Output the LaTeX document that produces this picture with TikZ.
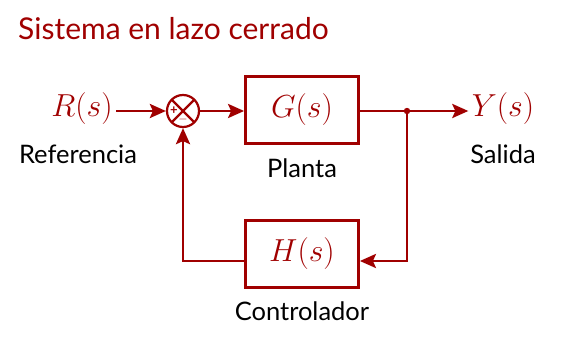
\documentclass[tikz,border=0pt]{standalone}
\usepackage{fontspec}
\setmainfont{Lato}
\usetikzlibrary{arrows.meta}
\definecolor{ctrlred}{RGB}{160,0,0}
% large transfer-function labels
\newcommand{\tflabel}[1]{\scalebox{1.28}{$#1$}}
\begin{document}
\begin{tikzpicture}[x=1pt,y=-1pt,
  wire/.style={draw=ctrlred,line width=2.8pt},
  sig/.style={wire,-{Stealth[length=16pt,width=14pt,inset=3pt]}},
  blockbox/.style={draw=ctrlred,line width=2.8pt,minimum width=113pt,minimum height=67pt,inner sep=0pt,text=ctrlred},
  mathtext/.style={text=ctrlred,font=\fontsize{29}{34}\selectfont},
  caption/.style={text=black,font=\fontsize{25.5}{30}\selectfont},
  sumnode/.style={circle,draw=ctrlred,line width=2.2pt,minimum size=32pt,inner sep=0pt,
    path picture={\draw[ctrlred,line width=2.2pt]
      (path picture bounding box.north west) -- (path picture bounding box.south east)
      (path picture bounding box.north east) -- (path picture bounding box.south west);}}
]
\useasboundingbox (0,0) rectangle (568,344);

% title
\node[anchor=base west,text=ctrlred,font=\fontsize{30}{36}\selectfont,inner sep=0pt] (title) at (18,40) {Sistema en lazo cerrado};

% signals and blocks
\node[mathtext] (r) at (82,109) {\tflabel{R(s)}};
\node[caption] (rcap) at (78,154) {Referencia};
\node[sumnode] (sum) at (183,111) {};
\node[text=ctrlred,font=\fontsize{13}{13}\selectfont\bfseries,inner sep=0pt] (plus) at (174,111) {+};
\node[text=ctrlred,font=\fontsize{13}{13}\selectfont\bfseries,inner sep=0pt] (minus) at (183,120) {$-$};
\node[blockbox,mathtext] (g) at (302,110) {\tflabel{G(s)}};
\node[caption] (gcap) at (302,168) {Planta};
\node[blockbox,mathtext] (h) at (302,254) {\tflabel{H(s)}};
\node[caption] (hcap) at (302,311) {Controlador};
\node[mathtext] (y) at (503,109) {\tflabel{Y(s)}};
\node[caption] (ycap) at (503,154) {Salida};

\coordinate (branch) at (407,111);
\coordinate (fbright) at (407,261);
\coordinate (fbleft) at (183,261);

% connections
\draw[sig] (r.east |- sum) -- (sum.west);
\draw[sig] (sum.east) -- (g.west |- sum);
\draw[sig] (g.east |- branch) -- (y.west |- branch);
\fill[ctrlred] (branch) circle (3.2pt);
\draw[sig] (branch) -- (fbright) -- (h.east |- fbright);
\draw[sig] (h.west |- fbleft) -- (fbleft) -- (sum.south);
\end{tikzpicture}
\end{document}
